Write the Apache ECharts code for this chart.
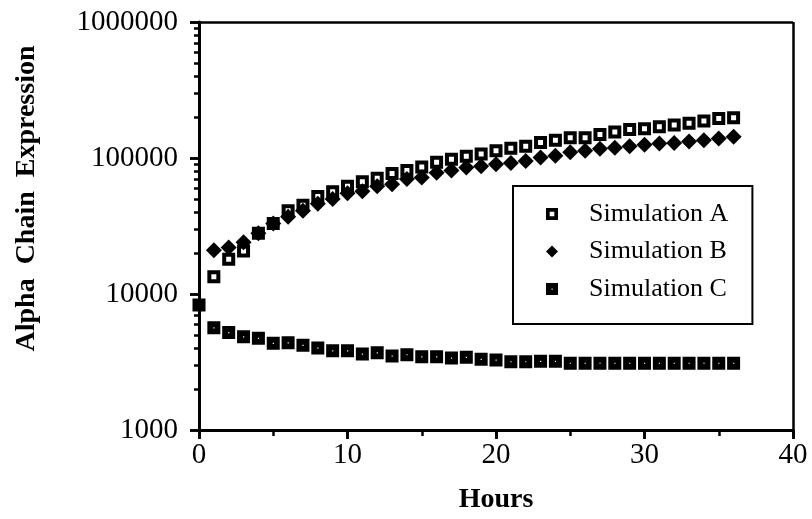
<!DOCTYPE html>
<html>
<head>
<meta charset="utf-8">
<title>Alpha Chain Expression</title>
<script src="https://cdn.jsdelivr.net/npm/echarts@6/dist/echarts.min.js"></script>
<style>
  html, body { margin: 0; padding: 0; background: #fff; }
  #chart { width: 812px; height: 519px; }
</style>
</head>
<body>
<div id="chart"></div>
<script>
// Hours sampled for each simulation
const hoursC = [0, 1, 2, 3, 4, 5, 6, 7, 8, 9, 10, 11, 12, 13, 14, 15, 16, 17, 18,
  19, 20, 21, 22, 23, 24, 25, 26, 27, 28, 29, 30, 31, 32, 33, 34, 35, 36];
const hoursAB = [1, 2, 3, 4, 5, 6, 7, 8, 9, 10, 11, 12, 13, 14, 15, 16, 17, 18,
  19, 20, 21, 22, 23, 24, 25, 26, 27, 28, 29, 30, 31, 32, 33, 34, 35, 36];

// Alpha chain expression per simulation
const simA = [13400, 18000, 20700, 28000, 33000, 41000, 45000, 52000, 56500, 62000,
  67000, 71000, 77000, 81000, 86000, 93000, 98000, 103000, 107000, 113000,
  118000, 122000, 130000, 135000, 141000, 141000, 149000, 155000, 162000, 164000,
  170000, 175000, 180000, 187000, 195000, 198000];
const simB = [21000, 22000, 24000, 28000, 33000, 37000, 41000, 46000, 50000, 55000,
  57000, 62000, 64000, 70000, 72000, 78000, 81000, 85000, 87000, 90000,
  92000, 95000, 101000, 104000, 110000, 113000, 117000, 119000, 122000, 125000,
  128000, 129000, 132000, 135000, 139000, 143000];
const simC = [8300, 5650, 5200, 4850, 4720, 4340, 4380, 4200, 4000, 3830, 3830,
  3620, 3700, 3500, 3580, 3460, 3460, 3380, 3420, 3310, 3270,
  3180, 3180, 3200, 3200, 3100, 3100, 3100, 3100, 3100, 3100,
  3100, 3100, 3100, 3100, 3100, 3100];

// Axis labels and ticks
const seriesNames = ['Simulation A', 'Simulation B', 'Simulation C'];
const xTicks = [0, 10, 20, 30, 40];
const yTicks = [1000, 10000, 100000, 1000000];
const yMinorTicks = [2000, 3000, 4000, 5000, 6000, 7000, 8000, 9000,
  20000, 30000, 40000, 50000, 60000, 70000, 80000, 90000,
  200000, 300000, 400000, 500000, 600000, 700000, 800000, 900000];

const pair = (xs, ys) => xs.map((x, i) => [x, ys[i]]);

// Marker shapes: filled square with a square hole, filled square with a pin-hole
const hollowSquare = 'path://M0,0H13V13H0Z M4,4V9H9V4Z';
const dotSquare = 'path://M0,0H13V13H0Z M6,6V7.2H7.2V6Z';

const serif = '"Liberation Serif", "Times New Roman", serif';
const black = '#000';
const tickLine = { color: black, width: 2.5, type: 'solid' };

const xMin = xTicks[0];
const xMax = xTicks[xTicks.length - 1];
const yMin = yTicks[0];
const yMax = yTicks[yTicks.length - 1];
const yLogMin = Math.round(Math.log10(yMin));
const yLogMax = Math.round(Math.log10(yMax));

// Plot area and the thin strips beside its axes that carry the tick marks
const plot = { left: 199, right: 19, top: 22, bottom: 89 };
const H = 519, W = 812;
const grids = [
  plot,
  { left: plot.left, right: plot.right, top: H - plot.bottom, bottom: plot.bottom - 9 },   // x major ticks
  { left: plot.left, right: plot.right, top: H - plot.bottom, bottom: plot.bottom - 6 },   // x minor ticks
  { left: plot.left - 9, right: W - plot.left, top: plot.top, bottom: plot.bottom },       // y decade ticks
  { left: plot.left - 5, right: W - plot.left, top: plot.top, bottom: plot.bottom }        // y sub-decade ticks
];

// An axis that draws nothing
function bare(gridIndex, min, max) {
  return {
    type: 'value', gridIndex, min, max,
    axisLine: { show: false }, axisTick: { show: false },
    axisLabel: { show: false }, splitLine: { show: false }
  };
}

// An axis whose split lines, confined to a thin strip, act as tick marks
function tickStrip(gridIndex, min, max, extra) {
  return Object.assign({
    type: 'value', gridIndex, min, max,
    axisLine: { show: false },
    axisLabel: { show: false },
    splitLine: { show: true, lineStyle: tickLine }
  }, extra);
}

const chart = echarts.init(document.getElementById('chart'), null, { renderer: 'canvas' });

chart.setOption({
  animation: false,
  backgroundColor: '#fff',
  grid: grids,
  legend: {
    orient: 'vertical',
    left: 513,
    top: 186,
    padding: [15, 24, 22, 33],
    itemGap: 11.5,
    itemWidth: 12,
    itemHeight: 12,
    borderColor: black,
    borderWidth: 2,
    backgroundColor: '#fff',
    selectedMode: false,
    textStyle: { fontFamily: serif, fontSize: 26, color: black, padding: [0, 0, 0, 26] },
    data: [
      { name: seriesNames[0], icon: hollowSquare },
      { name: seriesNames[1], icon: 'diamond' },
      { name: seriesNames[2], icon: dotSquare }
    ]
  },
  xAxis: [
    {
      type: 'value',
      gridIndex: 0,
      min: xMin,
      max: xMax,
      interval: 10,
      name: 'Hours',
      nameLocation: 'middle',
      nameGap: 56,
      nameTextStyle: { fontFamily: serif, fontSize: 28, fontWeight: 'bold', color: black },
      axisLine: { show: true, lineStyle: { color: black, width: 3 } },
      axisTick: { show: true, length: 9, lineStyle: tickLine },
      axisLabel: { fontFamily: serif, fontSize: 29, color: black, margin: 11 },
      splitLine: { show: false }
    },
    tickStrip(1, xMin, xMax, { interval: 10, axisTick: { show: false } }),
    tickStrip(2, xMin, xMax, { interval: 5, axisTick: { show: false } }),
    bare(3, 0, 1),
    bare(4, 0, 1)
  ],
  yAxis: [
    {
      type: 'log',
      logBase: 10,
      gridIndex: 0,
      min: yMin,
      max: yMax,
      name: 'Alpha  Chain  Expression',
      nameLocation: 'middle',
      nameGap: 158,
      nameTextStyle: {
        fontFamily: serif, fontSize: 28, fontWeight: 'bold', color: black,
        padding: [0, 0, 0, 55]
      },
      axisLine: { show: true, onZero: false, lineStyle: { color: black, width: 3 } },
      axisTick: { show: true, length: 9, lineStyle: tickLine },
      axisLabel: {
        fontFamily: serif, fontSize: 29, color: black, margin: 21,
        formatter: v => String(Math.round(v))
      },
      splitLine: { show: false }
    },
    bare(1, 0, 1),
    bare(2, 0, 1),
    // decade ticks on a log10 linear scale
    tickStrip(3, yLogMin, yLogMax, { interval: 1, axisTick: { show: false } }),
    // sub-decade ticks at log-spaced positions
    tickStrip(4, yLogMin, yLogMax, {
      axisTick: { show: false, customValues: yMinorTicks.map(v => Math.log10(v)) }
    })
  ],
  series: [
    {
      name: seriesNames[0],
      type: 'scatter',
      xAxisIndex: 0,
      yAxisIndex: 0,
      clip: false,
      symbol: hollowSquare,
      symbolSize: 13,
      itemStyle: { color: black, opacity: 1 },
      data: pair(hoursAB, simA),
      // top and right edges of the plot frame
      markLine: {
        silent: true,
        symbol: 'none',
        label: { show: false },
        lineStyle: { color: black, width: 2.5, type: 'solid' },
        data: [
          [{ coord: [xMin, yMax] }, { coord: [xMax, yMax] }],
          [{ coord: [xMax, yMin] }, { coord: [xMax, yMax] }]
        ]
      }
    },
    {
      name: seriesNames[1],
      type: 'scatter',
      xAxisIndex: 0,
      yAxisIndex: 0,
      symbol: 'diamond',
      symbolSize: 16,
      itemStyle: { color: black, opacity: 1 },
      data: pair(hoursAB, simB)
    },
    {
      name: seriesNames[2],
      type: 'scatter',
      xAxisIndex: 0,
      yAxisIndex: 0,
      symbol: dotSquare,
      symbolSize: 13,
      itemStyle: { color: black, opacity: 1 },
      data: pair(hoursC, simC)
    }
  ]
});
</script>
</body>
</html>
